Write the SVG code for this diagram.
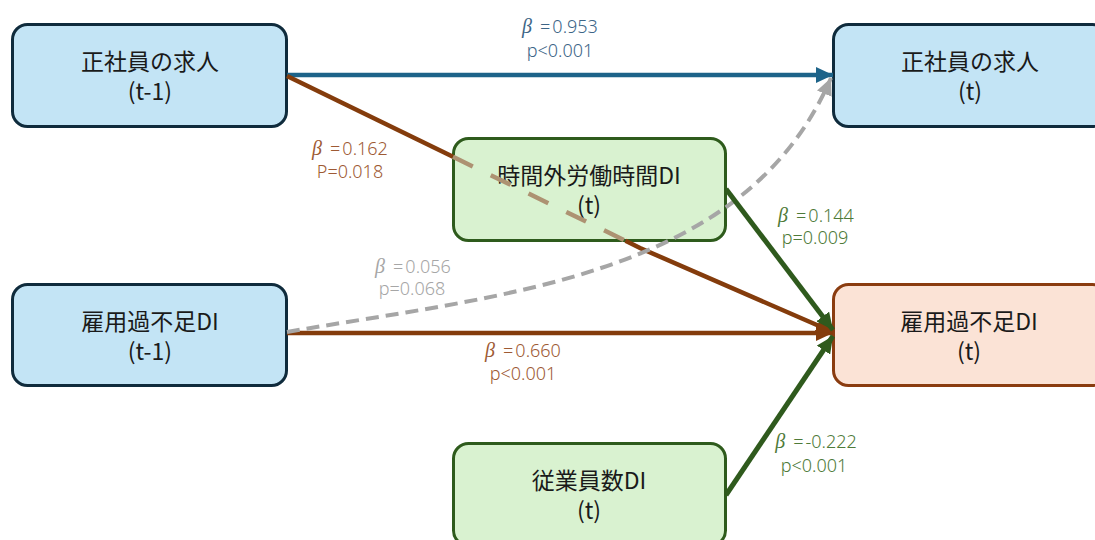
<svg xmlns="http://www.w3.org/2000/svg" width="1095" height="540" viewBox="0 0 1095 540">
<defs>
<style>
.nt{font-family:"Noto Sans CJK JP","Noto Sans",sans-serif;font-size:23px;fill:#1a1a1a;text-anchor:middle}
.lb{font-family:"Noto Sans","Noto Sans CJK JP",sans-serif;font-size:18px;font-weight:300;text-anchor:middle}
.b{font-family:"Liberation Serif",serif;font-style:italic;font-size:20px;font-weight:400}
.blue{fill:#c3e4f5;stroke:#0f2b3c;stroke-width:3}
.green{fill:#d9f2d0;stroke:#2e5b1c;stroke-width:3}
.peach{fill:#fbe3d6;stroke:#8a3c10;stroke-width:3}
.c{fill:none;stroke-linecap:butt}
</style>
<marker id="aBlue" markerUnits="userSpaceOnUse" markerWidth="18" markerHeight="16" refX="17" refY="8" orient="auto"><path d="M0,0 L17,8 L0,16 z" fill="#1d6389"/></marker>
<marker id="aBrown" markerUnits="userSpaceOnUse" markerWidth="18" markerHeight="16" refX="17" refY="8" orient="auto"><path d="M0,0 L17,8 L0,16 z" fill="#843c0c"/></marker>
<marker id="aGreen" markerUnits="userSpaceOnUse" markerWidth="18" markerHeight="16" refX="17" refY="8" orient="auto"><path d="M0,0 L17,8 L0,16 z" fill="#2f5a1d"/></marker>
<marker id="aGray" markerUnits="userSpaceOnUse" markerWidth="18" markerHeight="16" refX="17" refY="8" orient="auto"><path d="M0,0 L17,8 L0,16 z" fill="#a6a6a6"/></marker>
</defs>
<rect width="1095" height="540" fill="#ffffff"/>

<g id="node-seishain-t1">
<rect class="blue" x="12.5" y="24.5" width="274" height="102" rx="15"/>
<text class="nt"><tspan x="150" y="70">正社員の求人</tspan><tspan x="150" y="100">(t-1)</tspan></text>
</g>
<g id="node-seishain-t">
<rect class="blue" x="833.5" y="24.5" width="274" height="102" rx="15"/>
<text class="nt"><tspan x="970" y="70">正社員の求人</tspan><tspan x="970" y="100">(t)</tspan></text>
</g>
<g id="node-koyo-t1">
<rect class="blue" x="12.5" y="284.5" width="274" height="101" rx="15"/>
<text class="nt"><tspan x="150" y="330">雇用過不足DI</tspan><tspan x="150" y="360">(t-1)</tspan></text>
</g>
<g id="node-koyo-t">
<rect class="peach" x="833.5" y="284.5" width="274" height="101" rx="15"/>
<text class="nt"><tspan x="969" y="330">雇用過不足DI</tspan><tspan x="969" y="360">(t)</tspan></text>
</g>
<g id="node-jikangai">
<rect class="green" x="453.5" y="138.5" width="272" height="102" rx="15"/>
<text class="nt"><tspan x="589" y="184">時間外労働時間DI</tspan><tspan x="589" y="214">(t)</tspan></text>
</g>
<g id="node-jugyoin">
<rect class="green" x="453.5" y="443.5" width="272" height="102" rx="15"/>
<text class="nt"><tspan x="589" y="489">従業員数DI</tspan><tspan x="589" y="519">(t)</tspan></text>
</g>

<g id="connectors">
<line class="c" x1="287" y1="75" x2="833" y2="75" stroke="#1d6389" stroke-width="4.5" marker-end="url(#aBlue)"/>
<path class="c" d="M287,333 L833,333" stroke="#843c0c" stroke-width="4.5" marker-end="url(#aBrown)"/>
<path class="c" d="M287,76 L453,156.8" stroke="#843c0c" stroke-width="4.5"/>
<path class="c" d="M453,156.8 L625.5,240.8" stroke="#ad9272" stroke-width="4.5" stroke-dasharray="22 20"/>
<path class="c" d="M625.5,240.8 L640,248 L833,332" stroke="#843c0c" stroke-width="4.5" marker-end="url(#aBrown)"/>
<path class="c" d="M287,332 C500,295 745,278 831,78" stroke="#a6a6a6" stroke-width="4" stroke-dasharray="13 7" marker-end="url(#aGray)"/>
<path class="c" d="M726,189 L833,330" stroke="#2f5a1d" stroke-width="5" marker-end="url(#aGreen)"/>
<path class="c" d="M726,495 L833,336" stroke="#2f5a1d" stroke-width="5" marker-end="url(#aGreen)"/>
</g>

<g id="labels">
<text class="lb" fill="#3d6587" x="560" y="33"><tspan class="b">β</tspan><tspan dx="8">=</tspan><tspan dx="2">0.953</tspan></text>
<text class="lb" fill="#3d6587" x="560" y="57">p&lt;0.001</text>
<text class="lb" fill="#9e5a34" x="350" y="155"><tspan class="b">β</tspan><tspan dx="8">=</tspan><tspan dx="2">0.162</tspan></text>
<text class="lb" fill="#9e5a34" x="350" y="178">P=0.018</text>
<text class="lb" fill="#a6a6a6" x="413" y="273"><tspan class="b">β</tspan><tspan dx="8">=</tspan><tspan dx="2">0.056</tspan></text>
<text class="lb" fill="#a6a6a6" x="412" y="295">p=0.068</text>
<text class="lb" fill="#9e5a34" x="523" y="357"><tspan class="b">β</tspan><tspan dx="8">=</tspan><tspan dx="2">0.660</tspan></text>
<text class="lb" fill="#9e5a34" x="523" y="380">p&lt;0.001</text>
<text class="lb" fill="#4e7a38" x="816" y="222"><tspan class="b">β</tspan><tspan dx="8">=</tspan><tspan dx="2">0.144</tspan></text>
<text class="lb" fill="#4e7a38" x="815" y="244">p=0.009</text>
<text class="lb" fill="#4e7a38" x="816" y="448"><tspan class="b">β</tspan><tspan dx="8">=</tspan><tspan dx="2">-0.222</tspan></text>
<text class="lb" fill="#4e7a38" x="814" y="472">p&lt;0.001</text>
</g>
</svg>
